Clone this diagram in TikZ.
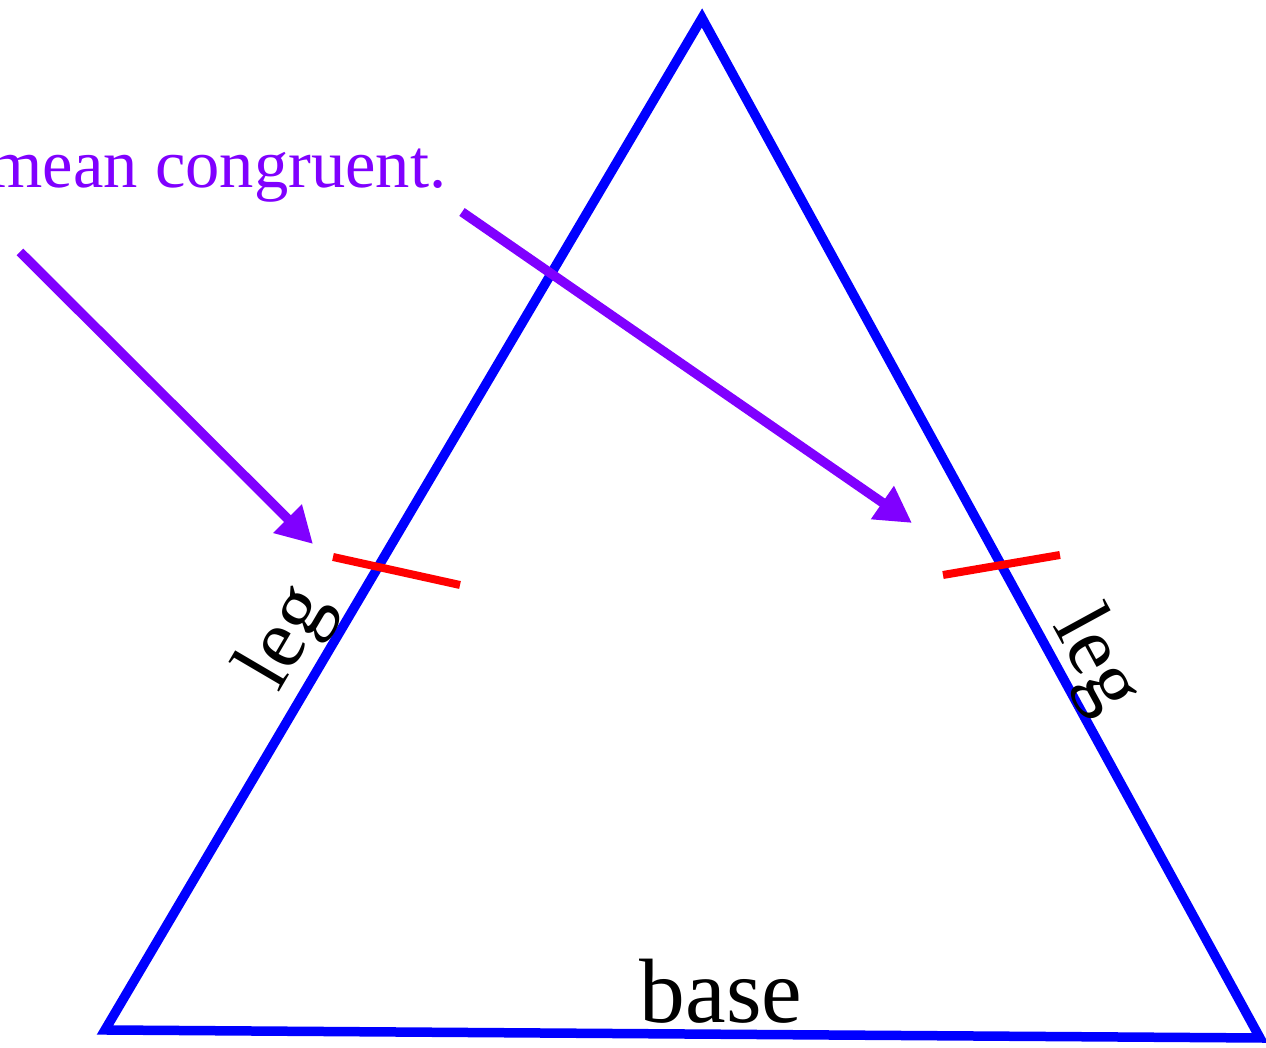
\documentclass[tikz,border=0pt]{standalone}
\usepackage{fontspec}
\setmainfont{Liberation Serif}
\usepackage{xcolor}
\definecolor{triblue}{RGB}{0,0,255}
\definecolor{tripurple}{RGB}{128,0,255}
\definecolor{trired}{RGB}{255,0,0}
\usepackage{tikz}
\usetikzlibrary{arrows.meta}

\begin{document}
\begin{tikzpicture}[
  side/.style={draw=triblue, line width=0.95mm, line join=miter},
  tickmark/.style={draw=trired, line width=0.8mm},
  pointer/.style={draw=tripurple, line width=0.95mm, -{Triangle[length=3.6mm, width=3.8mm]}},
  sidelabel/.style={font=\fontsize{24}{28}\selectfont, inner sep=0pt}
]
  \useasboundingbox (0,0) rectangle (12.66,10.48);
  \clip (0,0) rectangle (12.66,10.48);

  % Triangle
  \coordinate (apex) at (7.02,10.30);
  \coordinate (bleft) at (1.05,0.18);
  \coordinate (bright) at (12.60,0.10);
  \draw[side] (bleft) -- (apex) -- (bright) -- cycle;

  % Labels
  \node[sidelabel, anchor=base, rotate=59.6] (legl) at (3.05,3.99) {leg};
  \node[sidelabel, anchor=base, rotate=-61.4] (legr) at (10.77,3.77) {leg};
  \node[sidelabel, anchor=base, font=\fontsize{26}{30}\selectfont] (base) at (7.21,0.25) {base};

  % Tick marks
  \coordinate (tla) at (3.33,4.91);
  \coordinate (tlb) at (4.60,4.63);
  \coordinate (tra) at (9.43,4.73);
  \coordinate (trb) at (10.60,4.93);
  \draw[tickmark] (tla) -- (tlb);
  \draw[tickmark] (tra) -- (trb);

  % Note and arrows
  \node[font=\fontsize{19.5}{23}\selectfont, tripurple, inner sep=0pt, anchor=base east] (note) at (4.47,8.60) {mean congruent.};
  \coordinate (pla) at (0.20,7.96);
  \coordinate (plb) at (3.13,5.04);
  \coordinate (pra) at (4.62,8.36);
  \coordinate (prb) at (9.12,5.25);
  \draw[pointer] (pla) -- (plb);
  \draw[pointer] (pra) -- (prb);
\end{tikzpicture}
\end{document}
